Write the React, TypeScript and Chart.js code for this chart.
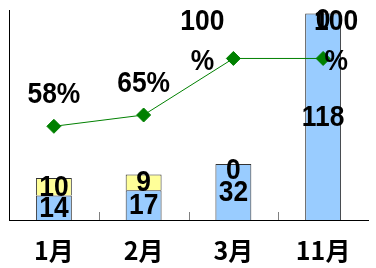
import React, { useEffect, useRef } from 'react';
import { Chart, registerables } from 'chart.js';

Chart.register(...registerables);

const categories = ['1月', '2月', '3月', '11月'];
const blueValues = [14, 17, 32, 118];
const yellowValues = [10, 9, 0, 0];
const rateValues = [0.58, 0.65, 1.0, 1.0];

const NUM_FONT = 'bold 29px "Liberation Sans", Arial, sans-serif';
const NUM_SCALE_X = 0.91;
const pctOffsets = [
  { dx: 0, dy: -31 },
  { dx: 0, dy: -31 },
  { dx: -31, dy: -36 },
  { dx: 13, dy: -36 },
];

function drawText(ctx: CanvasRenderingContext2D, t: string, x: number, y: number) {
  ctx.save();
  ctx.translate(x, y);
  ctx.scale(NUM_SCALE_X, 1);
  ctx.fillText(t, 0, 0);
  ctx.restore();
}

const labelPlugin = {
  id: 'valueLabels',
  afterDatasetsDraw(chart: any) {
    const ctx = chart.ctx as CanvasRenderingContext2D;
    const area = chart.chartArea;
    const xs = chart.scales.x;
    ctx.save();
    ctx.strokeStyle = '#808080';
    ctx.lineWidth = 1;
    for (let i = 1; i < categories.length; i++) {
      const bx = Math.round((xs.getPixelForValue(i - 1) + xs.getPixelForValue(i)) / 2) + 0.5;
      ctx.beginPath();
      ctx.moveTo(bx, area.bottom);
      ctx.lineTo(bx, area.bottom - 8);
      ctx.stroke();
    }
    ctx.fillStyle = '#000';
    ctx.textAlign = 'center';
    ctx.textBaseline = 'middle';
    ctx.font = NUM_FONT;
    [0, 1].forEach((di) => {
      const meta = chart.getDatasetMeta(di);
      meta.data.forEach((el: any, i: number) => {
        const v = chart.data.datasets[di].data[i];
        const p = el.getProps(['x', 'y', 'base'], true);
        const h = Math.abs(p.base - p.y);
        const cy = (p.y + p.base) / 2 + (h < 1 ? 7 : 1);
        drawText(ctx, String(v), p.x, cy);
      });
    });
    const lmeta = chart.getDatasetMeta(2);
    lmeta.data.forEach((el: any, i: number) => {
      const txt = Math.round(rateValues[i] * 100) + '%';
      const lines = txt.length > 3 ? [txt.slice(0, -1), '%'] : [txt];
      const off = pctOffsets[i];
      lines.forEach((ln, k) => drawText(ctx, ln, el.x + off.dx, el.y + off.dy + k * 40));
    });
    ctx.restore();
  },
};

export default function App() {
  const ref = useRef<HTMLCanvasElement | null>(null);
  useEffect(() => {
    if (!ref.current) return;
    const chart = new Chart(ref.current, {
      type: 'bar',
      data: {
        labels: categories,
        datasets: [
          {
            type: 'bar',
            data: blueValues,
            backgroundColor: '#99CCFF',
            borderColor: '#333333',
            borderWidth: 1,
            yAxisID: 'y',
            order: 2,
            barPercentage: 0.4,
            categoryPercentage: 1,
          },
          {
            type: 'bar',
            data: yellowValues,
            backgroundColor: '#FFFF99',
            borderColor: '#333333',
            borderWidth: 1,
            yAxisID: 'y',
            order: 3,
            barPercentage: 0.4,
            categoryPercentage: 1,
          },
          {
            type: 'line',
            data: rateValues,
            borderColor: '#008000',
            borderWidth: 1,
            pointStyle: 'rectRot',
            pointRadius: 7,
            pointBackgroundColor: '#008000',
            pointBorderColor: '#008000',
            yAxisID: 'y1',
            order: 1,
          },
        ] as any,
      },
      options: {
        animation: false,
        responsive: false,
        maintainAspectRatio: false,
        layout: { padding: { top: 10, left: 0, right: 0, bottom: 0 } },
        plugins: { legend: { display: false }, tooltip: { enabled: false } },
        scales: {
          x: {
            stacked: true,
            grid: { display: false, drawTicks: false },
            border: { display: true, color: '#000', width: 1 },
            ticks: {
              color: '#000',
              padding: 15,
              font: { family: '"Noto Sans CJK JP", sans-serif', size: 25, weight: 'bold' },
            },
            afterFit: (s: any) => {
              s.height = 48;
            },
          },
          y: {
            stacked: true,
            min: 0,
            max: 120,
            ticks: { display: false },
            grid: { display: false, drawTicks: false },
            border: { display: true, color: '#000', width: 1 },
            afterFit: (s: any) => {
              s.width = 9;
            },
          },
          y1: { display: false, min: 0, max: 1.3 },
        },
      } as any,
      plugins: [labelPlugin],
    });
    return () => chart.destroy();
  }, []);
  return (
    <div style={{ position: 'absolute', left: 0, top: 0, width: 376, height: 268, background: '#fff' }}>
      <canvas ref={ref} width={376} height={268} style={{ width: 376, height: 268, display: 'block' }} />
    </div>
  );
}
